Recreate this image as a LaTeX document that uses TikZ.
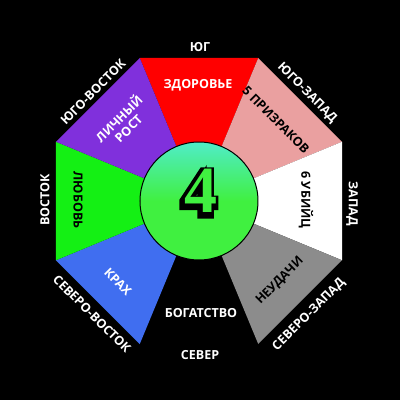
\documentclass[tikz,border=0pt]{standalone}
\usepackage{fontspec}
\setmainfont{Open Sans}
\newfontfamily\digitfont{Liberation Serif Bold}
\newfontfamily\digitbold[FakeBold=12]{Liberation Serif Bold}
\definecolor{zdorovie}{RGB}{255,0,0}
\definecolor{prizrak}{RGB}{234,160,160}
\definecolor{neudacha}{RGB}{140,140,140}
\definecolor{krah}{RGB}{64,110,240}
\definecolor{lubov}{RGB}{20,240,20}
\definecolor{rost}{RGB}{128,48,220}
\definecolor{ringtop}{RGB}{80,236,200}
\definecolor{ringbot}{RGB}{64,240,64}
\tikzset{
  sectorlbl/.style={font=\bfseries\fontsize{12.5}{13.5}\selectfont, align=center, inner sep=0pt},
  sidelbl/.style={font=\bfseries\fontsize{12.5}{13.5}\selectfont, text=white, inner sep=0pt}
}
\begin{document}
\begin{tikzpicture}[x=1pt, y=1pt]
\fill[black] (-199,-199) rectangle (201,201);
\useasboundingbox (-199,-199) rectangle (201,201);
\foreach \a/\c in {90/zdorovie, 45/prizrak, 0/white, -45/neudacha, -135/krah, 180/lubov, 135/rost}
  \fill[\c] (0,0) -- (\a-22.5:154.8) -- (\a+22.5:154.8) -- cycle;
\path[draw=black, line width=1pt, top color=ringtop, bottom color=ringbot, middle color=ringbot] (0,0) circle (59);
\node[font=\digitbold\fontsize{66}{66}\selectfont, text=black] (shadow) at (0,8) {4};
\node[font=\digitfont\fontsize{66}{66}\selectfont, text=ringbot] (four) at (2,10) {4};
\node[sectorlbl, text=white] (zdr) at (-1,116) {ЗДОРОВЬЕ};
\node[sectorlbl, text=black, rotate=-45] (prz) at (77,81) {5 ПРИЗРАКОВ};
\node[sectorlbl, text=black, rotate=-90] (ub) at (107,1) {6 УБИЙЦ};
\node[sectorlbl, text=black, rotate=45] (ndc) at (81,-80) {НЕУДАЧИ};
\node[sectorlbl, text=white] (bog) at (2,-112) {БОГАТСТВО};
\node[sectorlbl, text=white, rotate=-45] (krh) at (-81,-81) {КРАХ};
\node[sectorlbl, text=black, rotate=-90] (lub) at (-121,1) {ЛЮБОВЬ};
\node[sectorlbl, text=white, rotate=45] (lrs) at (-76,78) {ЛИЧНЫЙ\\РОСТ};
\node[sidelbl] (yug) at (1,154) {ЮГ};
\node[sidelbl, rotate=-45] (yz) at (108,108) {ЮГО-ЗАПАД};
\node[sidelbl, rotate=-90] (zap) at (153,-3) {ЗАПАД};
\node[sidelbl, rotate=45] (sz) at (110,-114) {СЕВЕРО-ЗАПАД};
\node[sidelbl] (sev) at (1,-154) {СЕВЕР};
\node[sidelbl, rotate=-45] (sv) at (-107,-113) {СЕВЕРО-ВОСТОК};
\node[sidelbl, rotate=90] (vos) at (-154,1) {ВОСТОК};
\node[sidelbl, rotate=45] (yv) at (-106,109) {ЮГО-ВОСТОК};
\end{tikzpicture}
\end{document}
